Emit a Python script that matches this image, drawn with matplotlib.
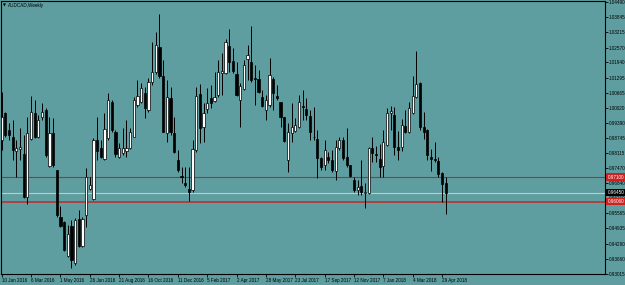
import matplotlib
matplotlib.use('Agg')
import matplotlib.pyplot as plt
from matplotlib.patches import Rectangle
import matplotlib.transforms as mtransforms

chart_title = 'AUDCAD,Weekly'

# weekly OHLC, first bar = week of 10 Jan 2016
opens = [0.9867, 0.9980, 0.9909, 0.9881, 0.9822, 0.9829, 0.9808, 0.9625, 0.9871, 0.9980,
         0.9878, 0.9965, 0.9994, 0.9757, 0.9898, 0.9740, 0.9543, 0.9522, 0.9379, 0.9504,
         0.9347, 0.9532, 0.9421, 0.9551, 0.9659, 0.9618, 0.9867, 0.9832, 0.9787, 0.9874,
         1.0029, 0.9902, 0.9797, 0.9811, 0.9822, 0.9832, 0.9881, 1.0015, 1.0029, 1.0064,
         0.9994, 1.0112, 1.0154, 1.0260, 1.0137, 0.9895, 1.0044, 0.9895, 0.9783, 0.9715,
         0.9684, 0.9659, 0.9656, 0.9825, 1.0061, 0.9923, 0.9997, 1.0043, 1.0033, 1.0057,
         1.0149, 1.0149, 1.0264, 1.0200, 1.0146, 1.0036, 1.0082, 1.0209, 1.0197, 1.0130,
         1.0123, 1.0050, 0.9994, 1.0015, 1.0124, 1.0053, 1.0026, 0.9963, 0.9783, 0.9895,
         0.9906, 0.9923, 1.0011, 0.9998, 0.9968, 0.9881, 0.9870, 0.9790, 0.9762, 0.9797,
         0.9783, 0.9737, 0.9832, 0.9867, 0.9797, 0.9760, 0.9698, 0.9656, 0.9674, 0.9642,
         0.9642, 0.9832, 0.9808, 0.9787, 0.9757, 0.9846, 0.9980, 0.9973, 0.9839, 0.9836,
         0.9926, 0.9902, 0.9980, 1.0047, 1.0106, 0.9921, 0.9909, 0.9797, 0.9787, 0.9780,
         0.9729, 0.9684]
highs = [1.0071, 0.9986, 0.9938, 0.9951, 0.9867, 0.9916, 0.9888, 0.9965, 1.0053, 1.0036,
         0.9973, 1.0022, 1.0001, 0.9965, 0.9959, 0.9742, 0.9586, 0.9525, 0.9508, 0.9529,
         0.9537, 0.9572, 0.9543, 0.9748, 0.9712, 0.9874, 0.9965, 0.9867, 0.9980, 1.0064,
         1.0036, 0.9909, 0.9853, 0.9916, 0.9951, 0.9916, 1.0050, 1.0120, 1.0106, 1.0092,
         1.0129, 1.0281, 1.0323, 1.0399, 1.0205, 1.0120, 1.0092, 0.9965, 0.9825, 0.9754,
         0.9754, 0.9754, 0.9867, 1.0092, 1.0103, 1.0024, 1.0085, 1.0099, 1.0155, 1.0205,
         1.0233, 1.0292, 1.0334, 1.0254, 1.0197, 1.0106, 1.0205, 1.0268, 1.0348, 1.0184,
         1.0162, 1.0078, 1.0057, 1.0212, 1.0134, 1.0099, 1.0029, 0.9965, 0.9938, 1.0022,
         0.9959, 1.0057, 1.0078, 1.0043, 0.9994, 1.0005, 0.9909, 0.9797, 0.9867, 0.9818,
         0.9825, 0.9867, 0.9881, 0.9881, 0.9916, 0.9762, 0.9712, 0.9698, 0.9783, 0.9684,
         0.9839, 0.9881, 0.9842, 0.9850, 0.9909, 1.0001, 1.0011, 1.0008, 0.9906, 0.9954,
         0.9994, 1.0029, 1.0137, 1.0243, 1.0113, 0.9986, 0.9912, 0.9828, 0.9859, 0.9797,
         0.9733, 0.9712]
lows = [0.9825, 0.9881, 0.9867, 0.9783, 0.9712, 0.9783, 0.9621, 0.9597, 0.9867, 0.9874,
        0.9874, 0.9951, 0.9797, 0.9752, 0.9754, 0.9543, 0.9501, 0.9400, 0.9374, 0.9326,
        0.9340, 0.9417, 0.9417, 0.9501, 0.9656, 0.9614, 0.9783, 0.9790, 0.9783, 0.9867,
        0.9902, 0.9797, 0.9790, 0.9804, 0.9797, 0.9828, 0.9878, 1.0008, 1.0022, 0.9959,
        0.9985, 1.0099, 1.0146, 1.0129, 0.9901, 0.9860, 0.9888, 0.9812, 0.9733, 0.9686,
        0.9670, 0.9610, 0.9649, 0.9818, 0.9853, 0.9860, 0.9980, 1.0001, 1.0029, 1.0047,
        1.0057, 1.0146, 1.0155, 1.0149, 1.0053, 0.9923, 1.0078, 1.0120, 1.0113, 1.0015,
        1.0064, 1.0008, 0.9951, 1.0008, 0.9994, 1.0036, 0.9923, 0.9860, 0.9733, 0.9860,
        0.9902, 0.9916, 0.9951, 0.9951, 0.9867, 0.9867, 0.9705, 0.9740, 0.9740, 0.9769,
        0.9733, 0.9698, 0.9825, 0.9783, 0.9754, 0.9712, 0.9649, 0.9635, 0.9635, 0.9580,
        0.9639, 0.9775, 0.9775, 0.9712, 0.9712, 0.9842, 0.9909, 0.9804, 0.9783, 0.9822,
        0.9898, 0.9898, 0.9977, 1.0043, 0.9909, 0.9870, 0.9783, 0.9737, 0.9774, 0.9712,
        0.9607, 0.9555]
closes = [0.9965, 0.9888, 0.9888, 0.9825, 0.9835, 0.9839, 0.9628, 0.9895, 0.9986, 0.9881,
          0.9951, 0.9986, 0.9804, 0.9898, 0.9762, 0.9551, 0.9505, 0.9403, 0.9470, 0.9361,
          0.9529, 0.9421, 0.9532, 0.9710, 0.9677, 0.9867, 0.9822, 0.9797, 0.9912, 1.0036,
          0.9909, 0.9808, 0.9832, 0.9832, 0.9832, 0.9902, 1.0036, 1.0053, 1.0085, 1.0001,
          1.0112, 1.0154, 1.0268, 1.0137, 0.9902, 1.0050, 0.9902, 0.9818, 0.9740, 0.9710,
          0.9677, 0.9649, 0.9829, 1.0053, 0.9916, 0.9980, 1.0024, 1.0024, 1.0047, 1.0155,
          1.0158, 1.0282, 1.0197, 1.0158, 1.0057, 1.0095, 1.0184, 1.0226, 1.0120, 1.0123,
          1.0071, 1.0012, 1.0036, 1.0141, 1.0064, 1.0043, 0.9965, 0.9864, 0.9900, 0.9923,
          0.9930, 1.0029, 1.0008, 0.9973, 0.9902, 0.9878, 0.9790, 0.9754, 0.9825, 0.9783,
          0.9740, 0.9839, 0.9867, 0.9790, 0.9762, 0.9716, 0.9656, 0.9670, 0.9649, 0.9649,
          0.9832, 0.9813, 0.9804, 0.9754, 0.9860, 0.9980, 0.9989, 0.9839, 0.9825, 0.9930,
          0.9902, 1.0001, 1.0053, 1.0102, 0.9921, 0.9902, 0.9804, 0.9786, 0.9783, 0.9724,
          0.9681, 0.9645]

date_labels = ['10 Jan 2016', '6 Mar 2016', '1 May 2016', '26 Jun 2016', '21 Aug 2016',
               '16 Oct 2016', '11 Dec 2016', '5 Feb 2017', '2 Apr 2017', '28 May 2017',
               '23 Jul 2017', '17 Sep 2017', '12 Nov 2017', '7 Jan 2018', '4 Mar 2018',
               '29 Apr 2018']
date_label_bars = [0, 8, 16, 24, 32, 40, 48, 56, 64, 72, 80, 88, 96, 104, 112, 120]

price_ticks = [1.04490, 1.03845, 1.03215, 1.02570, 1.01940, 1.01295, 1.00665, 1.00020,
               0.99390, 0.98745, 0.98115, 0.97470, 0.96840, 0.96210, 0.95565, 0.94935,
               0.94290, 0.93660, 0.93015]

level_upper = 0.97100
level_lower = 0.96060


def main():
    bg = '#5F9EA0'
    font = {'family': 'Liberation Sans', 'size': 3.3}

    fig = plt.figure(figsize=(6.25, 2.85), dpi=100, facecolor=bg)
    ax = fig.add_axes([1 / 625, 11 / 285, 604 / 625, 273 / 285], facecolor=bg)

    # horizontal levels
    ax.axhline(level_upper, color='#A83030', linewidth=0.8, zorder=1)
    ax.axhline(level_lower, color='#C02828', linewidth=1.1, zorder=1)
    ax.axhline(closes[-1], color='#C8C8C8', linewidth=0.8, zorder=1)

    w = 0.6
    for i in range(len(opens)):
        o, h, l, c = opens[i], highs[i], lows[i], closes[i]
        ax.vlines(i, l, h, color='black', linewidth=0.7, zorder=3)
        bottom = min(o, c)
        height = max(abs(c - o), 0.00015)
        fc = 'white' if c >= o else 'black'
        ax.add_patch(Rectangle((i - w / 2, bottom), w, height, facecolor=fc,
                               edgecolor='black', linewidth=0.5, zorder=4))

    ax.set_xlim(-0.19, 164.4)
    ax.set_ylim(0.93010, 1.04536)

    for s in ax.spines.values():
        s.set_color('black')
        s.set_linewidth(0.8)

    ax.yaxis.tick_right()
    ax.set_yticks(price_ticks)
    ax.set_yticklabels(['%.5f' % v for v in price_ticks], fontdict=font)
    ax.tick_params(axis='y', direction='out', length=2, width=0.6, pad=1, colors='black')

    ax.set_xticks(date_label_bars)
    ax.set_xticklabels(date_labels, fontdict=font, ha='left')
    ax.tick_params(axis='x', direction='out', length=2, width=0.6, pad=1, colors='black')

    # price tags on the right scale
    trans = mtransforms.blended_transform_factory(ax.transAxes, ax.transData)
    tags = [(level_upper, '#CC2222'), (level_lower, '#CC2222'), (closes[-1], 'black')]
    for val, col in tags:
        ax.text(1.004, val, '%.5f' % val, transform=trans, ha='left', va='center',
                color='white', fontdict=font, clip_on=False, zorder=10,
                bbox=dict(boxstyle='square,pad=0.25', fc=col, ec='none'))

    ax.text(0.004, 0.985, '\u25bc', transform=ax.transAxes, ha='left', va='center',
            fontsize=2.8, color='black', family='DejaVu Sans')
    ax.text(0.012, 0.985, chart_title, transform=ax.transAxes, ha='left', va='center',
            color='black', fontdict=font)

    plt.savefig('out.png', dpi=100, facecolor=bg)


if __name__ == '__main__':
    main()
